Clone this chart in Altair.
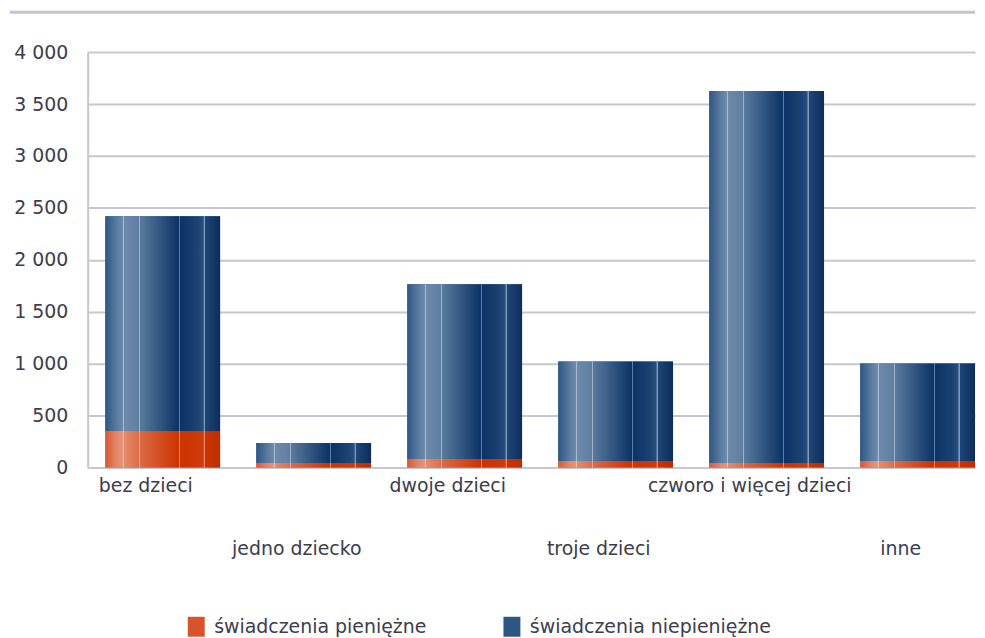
import json
import altair as alt
import pandas as pd

# ---- data ----
categories = ["bez dzieci", "jedno dziecko", "dwoje dzieci", "troje dzieci",
              "czworo i więcej dzieci", "inne"]
cash = [350, 43, 82, 62, 43, 62]              # świadczenia pieniężne
noncash = [2070, 192, 1683, 958, 3582, 938]   # świadczenia niepieniężne
series_names = ["świadczenia pieniężne", "świadczenia niepieniężne"]
y_ticks = [0, 500, 1000, 1500, 2000, 2500, 3000, 3500, 4000]
lower_row = ["jedno dziecko", "troje dzieci", "inne"]

rows = []
for c, a, b in zip(categories, cash, noncash):
    rows.append({"cat": c, "series": series_names[0], "y0": 0, "y1": a})
    rows.append({"cat": c, "series": series_names[1], "y0": a, "y1": a + b})
df = pd.DataFrame(rows)

TEXT = "#3c3c4e"
GRID = "#c6c6d6"
FONT = "DejaVu Sans"
FS = 19


def grad(stops):
    return {"gradient": "linear", "x1": 0, "x2": 1, "y1": 0, "y2": 0,
            "stops": [{"offset": o, "color": c} for o, c in stops]}


blue_grad = grad([
    (0.00, "#2f5684"), (0.10, "#5b7ca0"), (0.15, "#6d8aab"), (0.152, "#a8bccf"),
    (0.165, "#a8bccf"), (0.167, "#6d8aab"), (0.29, "#5f7fa1"), (0.292, "#9fb3c8"),
    (0.302, "#9fb3c8"), (0.304, "#5a7a9d"), (0.64, "#0b3366"), (0.642, "#5f80a5"),
    (0.652, "#5f80a5"), (0.654, "#0b3366"), (0.80, "#1b4272"), (0.855, "#28507e"),
    (0.857, "#7f9aba"), (0.867, "#7f9aba"), (0.869, "#1e4676"), (1.00, "#0c2d5b"),
])
red_grad = grad([
    (0.00, "#d65a33"), (0.10, "#e4876a"), (0.15, "#e8937a"), (0.152, "#f5c0a8"),
    (0.165, "#f5c0a8"), (0.167, "#e48a6c"), (0.29, "#dd6e4a"), (0.292, "#f0a68a"),
    (0.302, "#f0a68a"), (0.304, "#dc6a45"), (0.64, "#cc3300"), (0.642, "#ef8a5f"),
    (0.652, "#ef8a5f"), (0.654, "#cc3400"), (0.855, "#cf3b0c"), (0.857, "#ee8a66"),
    (0.867, "#ee8a66"), (0.869, "#cc3500"), (1.00, "#bb2e00"),
])

lower_test = "indexof(%s, datum.value) >= 0" % json.dumps(lower_row, ensure_ascii=False)

x_enc = alt.X("cat:N", title=None, sort=categories,
              scale=alt.Scale(domain=categories, paddingInner=0.24,
                              paddingOuter=0.0585, align=1),
              axis=alt.Axis(labelAngle=0, ticks=False,
                            labelPadding={"condition": {"test": lower_test, "value": 72},
                                          "value": 9},
                            domainColor=GRID, domainWidth=2, grid=False,
                            labelFontSize=FS, labelColor=TEXT, labelFont=FONT,
                            labelAlign="center", labelOffset=-17, labelLimit=0,
                            labelOverlap=False))
y_enc = alt.Y("y1:Q", title=None,
              scale=alt.Scale(domain=[0, 4000], nice=False),
              axis=alt.Axis(values=y_ticks, ticks=False, labelPadding=20,
                            labelExpr="replace(format(datum.value, ','), ',', ' ')",
                            domainColor=GRID, domainWidth=2, grid=True,
                            gridColor=GRID, gridWidth=2,
                            labelFontSize=FS, labelColor=TEXT, labelFont=FONT))

base = alt.Chart(df)

legend_layer = base.mark_bar().encode(
    x=x_enc, y=y_enc, y2="y0:Q",
    color=alt.Color("series:N",
                    scale=alt.Scale(domain=series_names, range=["#d9532a", "#2d5683"]),
                    legend=alt.Legend(title=None, orient="none", legendX=99, legendY=567,
                                      direction="horizontal", columns=2, columnPadding=75,
                                      symbolType="M-0.85,-1H0.85V1H-0.85Z",
                                      symbolSize=400, symbolStrokeWidth=0,
                                      labelFontSize=FS, labelColor=TEXT, labelFont=FONT,
                                      labelOffset=8, labelLimit=0, padding=0)),
)

red_layer = base.transform_filter(
    alt.datum.series == series_names[0]
).mark_bar(fill=red_grad, strokeWidth=0).encode(x=x_enc, y=y_enc, y2="y0:Q")

blue_layer = base.transform_filter(
    alt.datum.series == series_names[1]
).mark_bar(fill=blue_grad, strokeWidth=0).encode(x=x_enc, y=y_enc, y2="y0:Q")

top_rule = alt.Chart(pd.DataFrame({"k": [0]})).mark_rule(
    color="#c4c4d4", strokeWidth=3
).encode(x=alt.value(-78), x2=alt.value(891), y=alt.value(-40))

chart = alt.layer(legend_layer, red_layer, blue_layer, top_rule).properties(
    width=891, height=417,
    padding={"left": 0, "right": 0, "top": 1, "bottom": 0},
).configure_view(stroke=None)

chart.save("out.html", embed_options={"renderer": "svg", "actions": False})
